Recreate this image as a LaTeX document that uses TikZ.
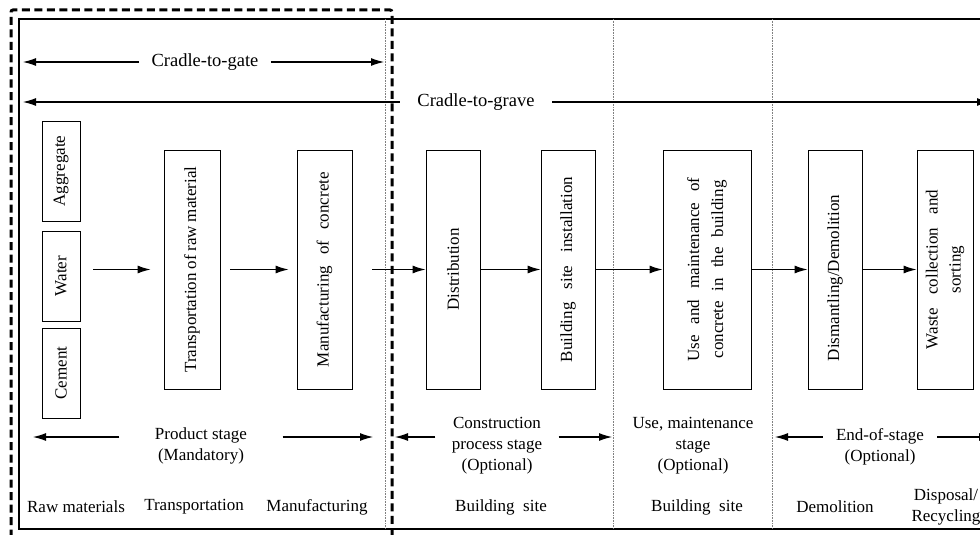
\documentclass[tikz,border=0pt]{standalone}
\usepackage{fontspec}
\setmainfont{Liberation Serif}
\usetikzlibrary{arrows.meta}

\begin{document}
\begin{tikzpicture}[x=1pt,y=-1pt,>={Latex[length=13pt,width=8pt]},line width=1.1pt,
    font=\fontsize{17}{21}\selectfont,
    stagebox/.style={draw,line width=0.9pt,inner sep=0pt},
    tallbox/.style={stagebox,minimum width=55pt,minimum height=239pt},
    lbl/.style={align=center,inner ysep=0pt},
    cradle/.style={font=\fontsize{18.5}{22}\selectfont,inner ysep=0pt}]
    \useasboundingbox (0,0) rectangle (980,535);  % keep the page at 980 x 535

    % frames: solid outer frame, dashed cradle-to-gate frame, dotted stage borders
    \draw[line width=1.8pt] (995,19) -- (19,19) -- (19,529) -- (995,529);
    \draw[line width=3pt,dash pattern=on 8pt off 4.5pt,rounded corners=2pt] (11,550) -- (11,10) -- (392,10) -- (392,550);
    \foreach \x in {385,613,772}
        \draw[gray,line width=0.6pt,densely dotted] (\x,19) -- (\x,529);

    % system boundaries
    \node[cradle,inner xsep=12pt] (gate) at (205,62) {Cradle-to-gate};
    \coordinate (gateL) at (23,62);
    \coordinate (gateR) at (384,62);
    \draw[->] (gate) -- (gateL);
    \draw[->] (gate) -- (gateR);

    \node[cradle,inner xsep=17pt] (grave) at (476,102) {Cradle-to-grave};
    \coordinate (graveL) at (23,102);
    \coordinate (graveR) at (990,102);
    \draw[->] (grave) -- (graveL);
    \draw[->] (grave) -- (graveR);

    % raw materials
    \node[stagebox,minimum width=38pt,minimum height=100pt] (aggr) at (61,171) {\rotatebox{90}{Aggregate}};
    \node[stagebox,minimum width=38pt,minimum height=90pt] (water) at (61,276) {\rotatebox{90}{Water}};
    \node[stagebox,minimum width=38pt,minimum height=90pt] (cement) at (61,373) {\rotatebox{90}{Cement}};

    % process boxes
    \node[tallbox,minimum width=56pt] (trans) at (192,269.5) {\rotatebox{90}{\makebox[206pt][s]{Transportation of raw material}}};
    \node[tallbox] (manuf) at (324.5,269.5) {\rotatebox{90}{\makebox[195pt][s]{Manufacturing of concrete}}};
    \node[tallbox,minimum width=54pt] (distr) at (453,269.5) {\rotatebox{90}{Distribution}};
    \node[tallbox,minimum width=54pt] (install) at (568,269.5) {\rotatebox{90}{\makebox[185pt][s]{Building site installation}}};
    \node[tallbox,minimum width=88pt] (use) at (707,269.5) {\rotatebox{90}{\begin{tabular}{@{}c@{}}\makebox[184pt][s]{Use and maintenance of}\\[3pt]\makebox[178pt][s]{concrete in the building}\end{tabular}}};
    \node[tallbox,minimum width=54pt] (dismant) at (835,269.5) {\rotatebox{90}{\makebox[183pt][s]{Dismantling/Demolition}}};
    \node[tallbox,minimum width=56pt] (waste) at (945,269.5) {\rotatebox{90}{\begin{tabular}{@{}c@{}}\makebox[159pt][s]{Waste collection and}\\[2pt]sorting\end{tabular}}};

    % flow
    \draw[->,shorten <=13pt,shorten >=13pt] (water.east |- trans) -- (trans);
    \draw[->,shorten <=10pt,shorten >=8pt] (trans) -- (manuf);
    \draw[->,shorten <=20pt] (manuf) -- (distr);
    \draw[->] (distr) -- (install);
    \draw[->] (install) -- (use);
    \draw[->] (use) -- (dismant);
    \draw[->] (dismant) -- (waste);

    % stages
    \node[lbl,inner xsep=35pt] (prod) at (201,446) {Product stage\\(Mandatory)};
    \coordinate (prodL) at (33,437);
    \coordinate (prodR) at (373,437);
    \draw[->] (prod.west |- prodL) -- (prodL);
    \draw[->] (prod.east |- prodR) -- (prodR);

    \node[lbl,inner xsep=16pt] (constr) at (497,446) {Construction\\process stage\\(Optional)};
    \coordinate (constrL) at (395,437);
    \coordinate (constrR) at (612,437);
    \draw[->] (constr.west |- constrL) -- (constrL);
    \draw[->] (constr.east |- constrR) -- (constrR);

    \node[lbl] (usest) at (693,446) {Use, maintenance\\stage\\(Optional)};

    \node[lbl,inner xsep=13pt] (endst) at (880,447) {End-of-stage\\(Optional)};
    \coordinate (endL) at (775,437);
    \coordinate (endR) at (992,437);
    \draw[->] (endst.west |- endL) -- (endL);
    \draw[->] (endst.east |- endR) -- (endR);

    % places
    \node (p1) at (76,507) {Raw materials};
    \node (p2) at (194,507) {Transportation};
    \node (p3) at (317,507) {Manufacturing};
    \node (p4) at (501,507) {Building\enspace site};
    \node (p5) at (697,507) {Building\enspace site};
    \node (p6) at (835,507) {Demolition};
    \node[lbl] (p7) at (946,507) {Disposal/\\Recycling};
\end{tikzpicture}
\end{document}
